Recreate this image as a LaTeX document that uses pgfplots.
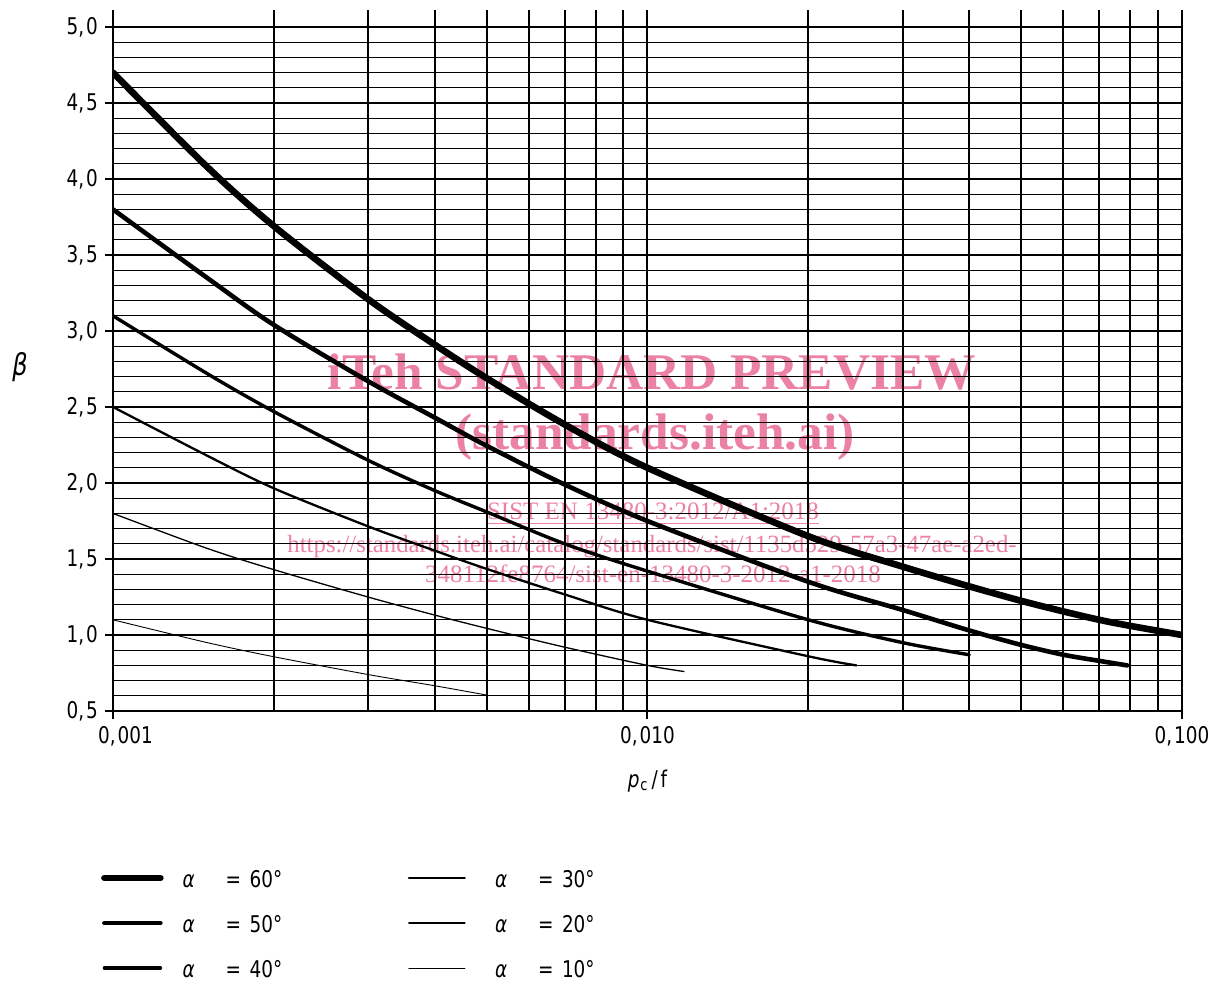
\documentclass[border=0pt]{standalone}
\usepackage{fontspec}
\setmainfont[FakeStretch=0.80]{DejaVu Sans}
\newfontfamily\wmfont{Liberation Serif}
\usepackage{pgfplots}
\pgfplotsset{compat=1.18}
\definecolor{wm}{RGB}{236,130,163}
\newcommand\lbl{\fontsize{11.5}{13}\selectfont}
\newcommand\cm{,\kern1pt}
\newcommand\leg[1]{\makebox[112.5pt][l]{\makebox[21.5pt][l]{\itshape α}\makebox[12pt][l]{=}#1°}}
\begin{document}
\begin{tikzpicture}
% watermark (behind the chart)
\node[text=wm, font=\wmfont\bfseries\fontsize{25.7}{30}\selectfont, anchor=base, inner sep=0pt] at (326pt,295.5pt) {iTeh STANDARD PREVIEW};
\node[text=wm, font=\wmfont\bfseries\fontsize{25.7}{30}\selectfont, anchor=base, inner sep=0pt] at (327.5pt,265.5pt) {(standards.iteh.ai)};
\node[text=wm, font=\wmfont\fontsize{12.5}{15}\selectfont, anchor=base, inner sep=0pt] at (326.5pt,230.5pt) {\underline{SIST EN 13480-3:2012/A1:2018}};
\node[text=wm, font=\wmfont\fontsize{12.4}{15}\selectfont, anchor=base, inner sep=0pt] at (326pt,214pt) {https://standards.iteh.ai/catalog/standards/sist/1135d529-57a3-47ae-a2ed-};
\node[text=wm, font=\wmfont\fontsize{12.5}{15}\selectfont, anchor=base, inner sep=0pt] at (326.5pt,199pt) {348112fe8764/sist-en-13480-3-2012-a1-2018};
\begin{axis}[
  at={(56.5pt,135pt)}, anchor=south west,
  scale only axis, width=534.5pt, height=350.36pt,
  xmode=log, xmin=0.001, xmax=0.1, ymin=0.5, ymax=5.11,
  axis x line*=bottom, axis y line*=left,
  axis line style={-, line width=1.3pt, black},
  every outer x axis line/.append style={-},
  every outer y axis line/.append style={-},
  xtick={0.001,0.01,0.1},
  xticklabels={{\hspace*{12.5pt}0\cm001},{0\cm010},{0\cm100}},
  minor xtick={0.002,0.003,0.004,0.005,0.006,0.007,0.008,0.009,0.02,0.03,0.04,0.05,0.06,0.07,0.08,0.09},
  ytick={0.5,1,1.5,2,2.5,3,3.5,4,4.5,5},
  yticklabels={{0\cm5},{1\cm0},{1\cm5},{2\cm0},{2\cm5},{3\cm0},{3\cm5},{4\cm0},{4\cm5},{5\cm0}},
  minor ytick={0.6,0.7,0.8,0.9,1.1,1.2,1.3,1.4,1.6,1.7,1.8,1.9,2.1,2.2,2.3,2.4,2.6,2.7,2.8,2.9,3.1,3.2,3.3,3.4,3.6,3.7,3.8,3.9,4.1,4.2,4.3,4.4,4.6,4.7,4.8,4.9},
  grid=both,
  major x grid style={line width=1pt, black},
  minor x grid style={line width=1pt, black},
  major y grid style={line width=0.9pt, black},
  minor y grid style={line width=0.65pt, black},
  tick align=outside, major tick length=4pt, minor tick length=0pt,
  tick style={line width=1pt, black},
  tick label style={font=\lbl},
  /pgf/number format/assume math mode=true,
  xlabel={\itshape p\kern0.5pt\textsubscript{\upshape c}\kern1.5pt\upshape/\kern1.5pt f},
  ylabel={\itshape β},
  every axis x label/.style={at={(axis description cs:0.5,0)}, anchor=base, yshift=-38pt, font=\lbl},
  every axis y label/.style={at={(axis description cs:0,0.5)}, anchor=center, xshift=-46.5pt, yshift=-3pt, font=\fontsize{15}{17}\selectfont},
  legend columns=2,
  legend image code/.code={\draw[#1, line cap=round] (0pt,0pt) -- (28pt,0pt);},
  legend cell align=left,
  legend style={draw=none, fill=none, inner sep=0pt, outer sep=0pt,
    at={(axis description cs:-0.0111,-0.2255)}, anchor=north west,
    font=\lbl, column sep=0pt, row sep=13.5pt,
    cells={anchor=west},
    nodes={inner sep=0pt, text height=9pt, text depth=0pt},
    /tikz/column 1/.append style={column sep=9.5pt},
    /tikz/column 3/.append style={column sep=14.5pt}},
]
% alpha = 60
\addplot[black, line width=3.3pt, line cap=round, smooth, forget plot] coordinates {
 (0.001,4.70) (0.0015,4.08) (0.002,3.69) (0.003,3.21) (0.004,2.91) (0.005,2.69)
 (0.007,2.385) (0.01,2.10) (0.02,1.65) (0.03,1.45) (0.04,1.32) (0.05,1.225)
 (0.06,1.155) (0.07,1.10) (0.08,1.06) (0.1,1.00)};
% alpha = 50
\addplot[black, line width=2.3pt, line cap=round, smooth, forget plot] coordinates {
 (0.001,3.80) (0.0015,3.35) (0.002,3.04) (0.003,2.67) (0.004,2.43) (0.005,2.245)
 (0.007,1.99) (0.01,1.75) (0.02,1.35) (0.03,1.165) (0.04,1.03) (0.05,0.935)
 (0.06,0.87) (0.07,0.83) (0.079,0.80)};
% alpha = 40
\addplot[black, line width=1.7pt, line cap=round, smooth, forget plot] coordinates {
 (0.001,3.10) (0.0015,2.72) (0.002,2.47) (0.003,2.15) (0.004,1.95) (0.005,1.81)
 (0.007,1.60) (0.01,1.42) (0.02,1.10) (0.03,0.95) (0.04,0.87)};
% alpha = 30
\addplot[black, line width=1.15pt, line cap=round, smooth, forget plot] coordinates {
 (0.001,2.50) (0.0015,2.18) (0.002,1.965) (0.003,1.715) (0.004,1.555) (0.005,1.435)
 (0.007,1.267) (0.01,1.10) (0.02,0.86) (0.0246,0.80)};
% alpha = 20
\addplot[black, line width=0.65pt, line cap=round, smooth, forget plot] coordinates {
 (0.001,1.80) (0.0015,1.57) (0.002,1.43) (0.003,1.25) (0.004,1.131) (0.005,1.044)
 (0.007,0.92) (0.01,0.80) (0.0117,0.76)};
% alpha = 10
\addplot[black, line width=0.45pt, line cap=round, smooth, forget plot] coordinates {
 (0.001,1.10) (0.0015,0.95) (0.002,0.857) (0.003,0.74) (0.004,0.666) (0.005,0.605)};
% legend (row-wise: 60,30 / 50,20 / 40,10)
\addlegendimage{black, line width=3.3pt}\addlegendentry{\leg{60}}
\addlegendimage{black, line width=1.15pt}\addlegendentry{\leg{30}}
\addlegendimage{black, line width=2.3pt}\addlegendentry{\leg{50}}
\addlegendimage{black, line width=0.65pt}\addlegendentry{\leg{20}}
\addlegendimage{black, line width=1.7pt}\addlegendentry{\leg{40}}
\addlegendimage{black, line width=0.45pt}\addlegendentry{\leg{10}}
\end{axis}
\pgfresetboundingbox
\path[use as bounding box] (0pt,0pt) rectangle (608pt,490.5pt);
\end{tikzpicture}
\end{document}
